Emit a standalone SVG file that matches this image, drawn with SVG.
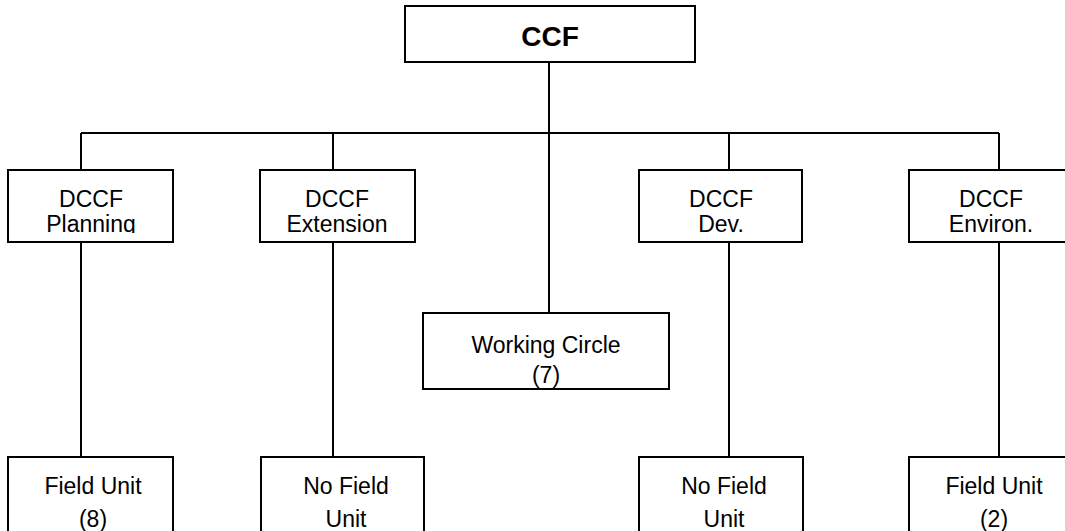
<svg xmlns="http://www.w3.org/2000/svg" width="1065" height="531" viewBox="0 0 1065 531">
<style>
.box{fill:#fff;stroke:#000;stroke-width:2}
.ln{stroke:#000;stroke-width:2;fill:none}
text{font-family:"Liberation Sans",Arial,sans-serif;font-size:23px;fill:#000;text-anchor:middle}
.b{font-weight:bold;font-size:28px}
</style>
<defs>
<clipPath id="c1"><rect x="9" y="171" width="163" height="62"/></clipPath>
<clipPath id="c2"><rect x="261" y="171" width="153" height="62"/></clipPath>
<clipPath id="c3"><rect x="640" y="171" width="161" height="62"/></clipPath>
<clipPath id="c4"><rect x="910" y="171" width="163" height="62"/></clipPath>
</defs>
<g id="connectors">
<path class="ln" d="M549 62V313M81 133H999M81 133V170M333 133V170M729 133V170M999 133V170M81 242V457M333 242V457M729 242V457M999 242V457"/>
</g>
<g id="ccf"><rect class="box" x="405" y="6" width="290" height="56"/><text class="b" x="550" y="46">CCF</text></g>
<g id="dccf-planning"><rect class="box" x="8" y="170" width="165" height="72"/><g clip-path="url(#c1)"><text x="91" y="207">DCCF</text><text x="91" y="232">Planning</text></g></g>
<g id="dccf-extension"><rect class="box" x="260" y="170" width="155" height="72"/><g clip-path="url(#c2)"><text x="337" y="207">DCCF</text><text x="337" y="232">Extension</text></g></g>
<g id="dccf-dev"><rect class="box" x="639" y="170" width="163" height="72"/><g clip-path="url(#c3)"><text x="721" y="207">DCCF</text><text x="721" y="232">Dev.</text></g></g>
<g id="dccf-environ"><rect class="box" x="909" y="170" width="165" height="72"/><g clip-path="url(#c4)"><text x="991" y="207">DCCF</text><text x="991" y="232">Environ.</text></g></g>
<g id="working-circle"><rect class="box" x="423" y="313" width="246" height="76"/><text x="546" y="353">Working Circle</text><text x="546" y="383">(7)</text></g>
<g id="field-unit-8"><rect class="box" x="8" y="457" width="165" height="90"/><text x="93" y="494">Field Unit</text><text x="93" y="527">(8)</text></g>
<g id="no-field-unit-1"><rect class="box" x="261" y="457" width="163" height="90"/><text x="346" y="494">No Field</text><text x="346" y="527">Unit</text></g>
<g id="no-field-unit-2"><rect class="box" x="639" y="457" width="164" height="90"/><text x="724" y="494">No Field</text><text x="724" y="527">Unit</text></g>
<g id="field-unit-2"><rect class="box" x="909" y="457" width="165" height="90"/><text x="994" y="494">Field Unit</text><text x="994" y="527">(2)</text></g>
</svg>
